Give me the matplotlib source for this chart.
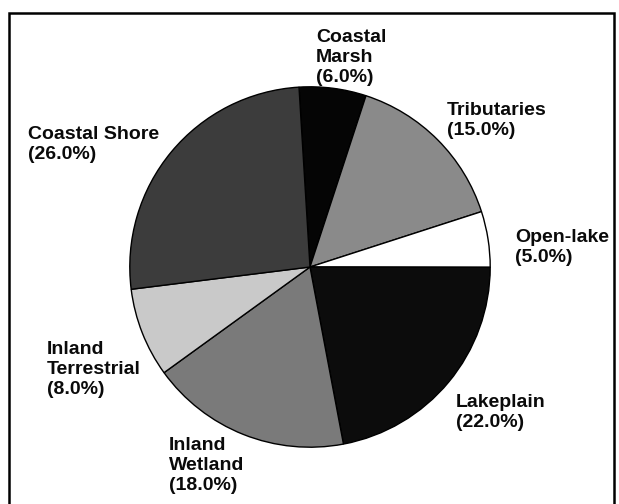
import matplotlib.pyplot as plt
from matplotlib.patches import Rectangle

# habitat share, clockwise from the top
habitats = ['Coastal\nMarsh', 'Tributaries', 'Open-lake', 'Lakeplain',
            'Inland\nWetland', 'Inland\nTerrestrial', 'Coastal Shore']
shares = [6.0, 15.0, 5.0, 22.0, 18.0, 8.0, 26.0]

shades = ['#050505', '#8a8a8a', '#ffffff', '#0c0c0c', '#7a7a7a', '#c9c9c9', '#3c3c3c']
# label top-left corners in pixels (x, y from top)
label_px = [(316, 29), (447, 102), (515, 229), (456, 394), (169, 437), (47, 341), (28, 126)]

W, H = 619, 504
fig = plt.figure(figsize=(W / 100, H / 100), dpi=100)

cx, cy, r = 310, 267, 182
ax = fig.add_axes([(cx - r) / W, (H - cy - r) / H, 2 * r / W, 2 * r / H])
ax.pie(shares, colors=shades, startangle=93.5, counterclock=False,
       wedgeprops={'edgecolor': 'black', 'linewidth': 1.0})
ax.set_xlim(-1.01, 1.01)
ax.set_ylim(-1.01, 1.01)
ax.axis('off')

for name, val, (px, py) in zip(habitats, shares, label_px):
    fig.text(px / W, 1 - py / H, f'{name}\n({val:.1f}%)', ha='left', va='top',
             fontsize=14, fontweight='bold', family='Liberation Sans',
             linespacing=1.25, color='#0a0a0a')

# outer frame
fig.patches.append(Rectangle((9 / W, -0.05), (614 - 9) / W, 1.05 - 13 / H,
                             transform=fig.transFigure, fill=False,
                             edgecolor='black', linewidth=1.8))

fig.savefig('out.png', dpi=100)
